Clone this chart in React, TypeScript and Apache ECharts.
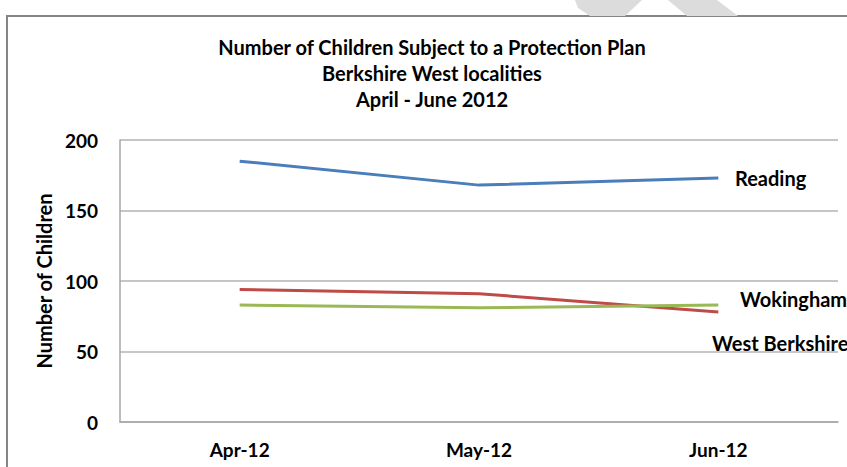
import React, { useEffect, useRef } from "react";
import * as echarts from "echarts";

const categories = ["Apr-12", "May-12", "Jun-12"];
const reading = [185, 168, 173];
const westBerkshire = [94, 91, 78];
const wokingham = [83, 81, 83];
const yTicks = { min: 0, max: 200, interval: 50 };
const titleLines = [
  "Number of Children Subject to a Protection Plan",
  "Berkshire West localities",
  "April - June 2012",
];
const seriesNames = ["Reading", "West Berkshire", "Wokingham"];

const FONT = "Lato, 'Liberation Sans', sans-serif";

export default function App() {
  const ref = useRef<HTMLDivElement>(null);
  useEffect(() => {
    if (!ref.current) return;
    const chart = echarts.init(ref.current, null, { renderer: "svg" });
    chart.setOption({
      animation: false,
      backgroundColor: "#ffffff",
      grid: { left: 120, top: 140, right: 9, bottom: 45 },
      xAxis: {
        type: "category",
        data: categories,
        boundaryGap: true,
        axisLine: { show: true, lineStyle: { color: "#a6a6a6", width: 1.5 } },
        axisTick: { show: false },
        axisLabel: {
          margin: 18,
          color: "#000",
          fontFamily: FONT,
          fontWeight: "bold",
          fontSize: 19,
        },
      },
      yAxis: {
        type: "value",
        min: yTicks.min,
        max: yTicks.max,
        interval: yTicks.interval,
        name: "Number of Children",
        nameLocation: "middle",
        nameGap: 63,
        nameTextStyle: {
          color: "#000",
          fontFamily: FONT,
          fontWeight: "bold",
          fontSize: 20,
        },
        axisLine: { show: true, lineStyle: { color: "#a6a6a6", width: 1.5 } },
        axisTick: { show: false },
        axisLabel: {
          margin: 22,
          color: "#000",
          fontFamily: FONT,
          fontWeight: "bold",
          fontSize: 19,
        },
        splitLine: { show: true, lineStyle: { color: "#b3b3b3", width: 1.5 } },
      },
      series: [
        {
          name: seriesNames[0],
          type: "line",
          data: reading,
          symbol: "none",
          lineStyle: { color: "#4a7ebb", width: 3 },
          z: 3,
        },
        {
          name: seriesNames[1],
          type: "line",
          data: westBerkshire,
          symbol: "none",
          lineStyle: { color: "#be4b48", width: 3 },
          z: 2,
        },
        {
          name: seriesNames[2],
          type: "line",
          data: wokingham,
          symbol: "none",
          lineStyle: { color: "#98b954", width: 3 },
          z: 2,
        },
      ],
      graphic: [
        {
          type: "rect",
          shape: { x: 7, y: 16, width: 900, height: 500 },
          style: { fill: "none", stroke: "#858585", lineWidth: 2 },
          z: 0,
        },
        {
          type: "polygon",
          shape: { points: [[575, 0], [642, 0], [625, 16], [590, 16], [578, 8]] },
          style: { fill: "#dcdcdc" },
        },
        {
          type: "polygon",
          shape: { points: [[668, 0], [717, 0], [738, 16], [687, 16]] },
          style: { fill: "#dcdcdc" },
        },
        {
          type: "text",
          x: 432,
          y: 34,
          style: {
            text: titleLines.join("\n"),
            fill: "#000",
            font: `bold 20px ${FONT}`,
            textAlign: "center",
            textVerticalAlign: "top",
            lineHeight: 26,
          },
          z: 10,
        },
        {
          type: "text",
          x: 735,
          y: 178,
          style: {
            text: seriesNames[0],
            fill: "#000",
            font: `bold 20px ${FONT}`,
            textAlign: "left",
            textVerticalAlign: "middle",
          },
          z: 10,
        },
        {
          type: "text",
          x: 740,
          y: 299,
          style: {
            text: seriesNames[2],
            fill: "#000",
            font: `bold 20px ${FONT}`,
            textAlign: "left",
            textVerticalAlign: "middle",
          },
          z: 10,
        },
        {
          type: "text",
          x: 712,
          y: 343,
          style: {
            text: seriesNames[1],
            fill: "#000",
            font: `bold 20px ${FONT}`,
            textAlign: "left",
            textVerticalAlign: "middle",
          },
          z: 10,
        },
      ],
    });
    return () => chart.dispose();
  }, []);
  return (
    <div
      ref={ref}
      style={{ position: "fixed", left: 0, top: 0, width: 847, height: 467 }}
    />
  );
}
